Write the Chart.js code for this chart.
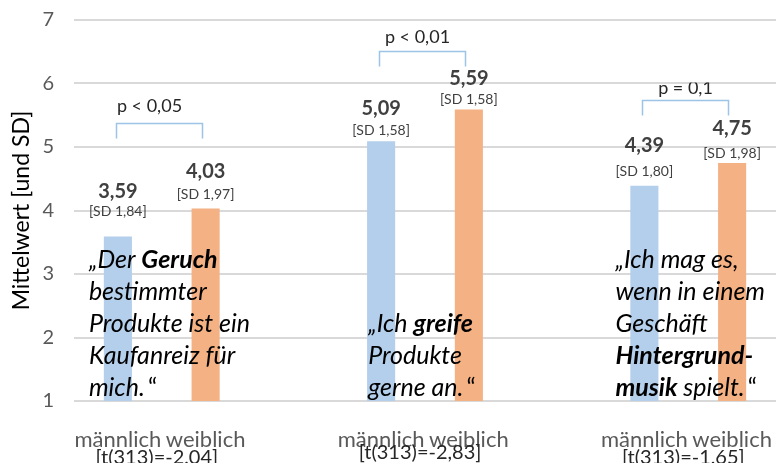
<!DOCTYPE html>
<html>
<head>
<meta charset="utf-8">
<script src="https://cdn.jsdelivr.net/npm/chart.js@4/dist/chart.umd.min.js"></script>
<style>
    html, body { margin: 0; padding: 0; background: #fff; }
</style>
</head>
<body>
<canvas id="chart" width="776" height="463"></canvas>
<script>
// data
const categories = ['männlich', 'weiblich', '', 'männlich', 'weiblich', '', 'männlich', 'weiblich'];
const means = [3.59, 4.03, null, 5.09, 5.59, null, 4.39, 4.75];
const sdLabels = ['[SD 1,84]', '[SD 1,97]', null, '[SD 1,58]', '[SD 1,58]', null, '[SD 1,80]', '[SD 1,98]'];
const yTicks = [1, 2, 3, 4, 5, 6, 7];
const groupFirst = [0, 3, 6];
const pValues = ['p < 0,05', 'p < 0,01', 'p = 0,1'];
const tStats = ['[t(313)=-2,04]', '[t(313)=-2,83]', '[t(313)=-1,65]'];
const bracketLevels = [5.38, 6.51, 5.74];

// quotes, one entry per group: lines of [text, bold, upright] runs
const quotes = [
    [
        [['„Der ', false], ['Geruch', true]],
        [['bestimmter', false]],
        [['Produkte ist ein', false]],
        [['Kaufanreiz für', false]],
        [['mich.', false], ['\u2009“', false, true]]
    ],
    [
        [['„Ich ', false], ['greife', true]],
        [['Produkte', false]],
        [['gerne an.', false], ['\u2009“', false, true]]
    ],
    [
        [['„Ich mag es,', false]],
        [['wenn in einem', false]],
        [['Geschäft', false]],
        [['Hintergrund-', true]],
        [['musik', true], [' spielt.', false], ['\u2009“', false, true]]
    ]
];

// label placement (pixels above bar top), tuned by eye
const valueOffsets = [45, 37, 0, 33, 31, 0, 40, 34];
const sdOffsets = [25, 14, 0, 11, 10, 0, 14, 9];
const pOffsets = [17, 14, 12];
const pShift = [-10, -5, 0];
const pClipAt = [null, null, 6];   // third p label is cut off by the gridline in the original
const tY = [458, 453, 458];
const quoteShift = [-29, -13, -29];

const BLUE = '#b3cfeb';
const ORANGE = '#f4b183';
const FONT = 'Lato';

const barColors = means.map((v, i) => (i % 3 === 0 ? BLUE : ORANGE));

const annotations = {
    id: 'annotations',
    afterDatasetsDraw(chart) {
        const ctx = chart.ctx;
        const x = chart.scales.x;
        const y = chart.scales.y;
        const bars = chart.getDatasetMeta(0).data;
        const area = chart.chartArea;

        ctx.save();
        ctx.textAlign = 'center';
        ctx.textBaseline = 'middle';

        // value + SD labels
        means.forEach((v, i) => {
            if (v === null) return;
            const bar = bars[i];
            ctx.fillStyle = '#404040';
            ctx.font = `bold 20px ${FONT}`;
            ctx.fillText(v.toFixed(2).replace('.', ','), bar.x, bar.y - valueOffsets[i]);
            ctx.font = `14px ${FONT}`;
            ctx.fillText(sdLabels[i], bar.x, bar.y - sdOffsets[i]);
        });

        // significance brackets
        groupFirst.forEach((idx, g) => {
            const x1 = Math.round(x.getPixelForValue(idx)) - 1.5;
            const x2 = Math.round(x.getPixelForValue(idx + 1)) - 3.5;
            const top = Math.round(y.getPixelForValue(bracketLevels[g])) + 0.5;
            ctx.strokeStyle = '#9dc3e6';
            ctx.lineWidth = 1.5;
            ctx.beginPath();
            ctx.moveTo(x1, top + 15);
            ctx.lineTo(x1, top);
            ctx.lineTo(x2, top);
            ctx.lineTo(x2, top + 15);
            ctx.stroke();

            ctx.save();
            if (pClipAt[g] !== null) {
                const cy = y.getPixelForValue(pClipAt[g]) - 1;
                ctx.beginPath();
                ctx.rect(0, cy, chart.width, chart.height - cy);
                ctx.clip();
            }
            ctx.fillStyle = '#262626';
            ctx.font = `18px ${FONT}`;
            ctx.fillText(pValues[g], (x1 + x2) / 2 + pShift[g], top - pOffsets[g]);
            ctx.restore();

            // t statistic under the pair
            const mid = (x.getPixelForValue(idx) + x.getPixelForValue(idx + 1)) / 2;
            ctx.fillStyle = '#262626';
            ctx.font = `20px ${FONT}`;
            ctx.fillText(tStats[g], mid - 5, tY[g]);
        });

        // quotes
        ctx.textAlign = 'left';
        ctx.textBaseline = 'alphabetic';
        ctx.fillStyle = '#000';
        quotes.forEach((lines, g) => {
            const left = x.getPixelForValue(groupFirst[g]) + quoteShift[g];
            const lastBase = area.bottom - 5;
            lines.forEach((runs, li) => {
                const base = lastBase - (lines.length - 1 - li) * 32;
                let cx = left;
                runs.forEach(([text, bold, upright]) => {
                    ctx.font = `${upright ? '' : 'italic '}${bold ? 'bold ' : ''}25px ${FONT}`;
                    ctx.fillText(text, cx, base);
                    cx += ctx.measureText(text).width;
                });
            });
        });

        ctx.restore();
    }
};

new Chart(document.getElementById('chart'), {
    type: 'bar',
    data: {
        labels: categories,
        datasets: [{
            data: means,
            backgroundColor: barColors,
            borderWidth: 0,
            barPercentage: 0.32,
            categoryPercentage: 1
        }]
    },
    options: {
        responsive: false,
        animation: false,
        devicePixelRatio: 1,
        layout: { padding: { top: 20, right: 0, left: 0, bottom: 0 } },
        plugins: {
            legend: { display: false },
            tooltip: { enabled: false }
        },
        scales: {
            x: {
                grid: { display: false },
                border: { display: false },
                ticks: {
                    color: '#595959',
                    font: { family: FONT, size: 22 },
                    padding: 18,
                    autoSkip: false,
                    maxRotation: 0
                },
                afterFit: s => {
                    s.height = 62;
                    s.paddingLeft = 0;
                    s.paddingRight = 0;
                }
            },
            y: {
                min: 1,
                max: 7,
                afterBuildTicks: s => { s.ticks = yTicks.map(v => ({ value: v })); },
                grid: { color: '#d9d9d9', lineWidth: 2, drawTicks: false },
                border: { display: false },
                ticks: {
                    color: '#595959',
                    font: { family: FONT, size: 20 },
                    padding: 20
                },
                title: {
                    display: true,
                    text: 'Mittelwert [und SD]',
                    color: '#000',
                    font: { family: FONT, size: 23 },
                    padding: { top: 8, bottom: 0 }
                },
                afterFit: s => {
                    s.width = 74;
                    s.paddingTop = 0;
                    s.paddingBottom = 0;
                }
            }
        }
    },
    plugins: [annotations]
});
</script>
</body>
</html>
